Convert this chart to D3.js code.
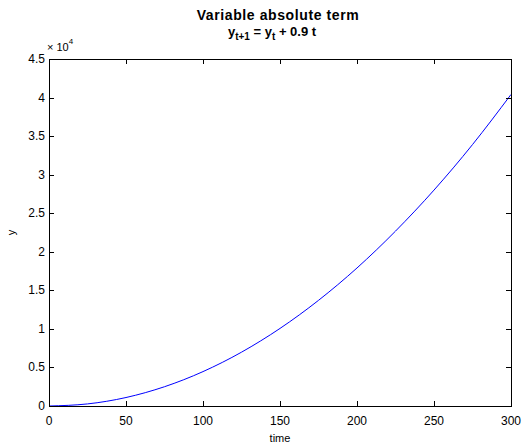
<!DOCTYPE html>
<html>
<head>
<meta charset="utf-8">
<script src="https://cdn.jsdelivr.net/npm/d3@7"></script>
<style>
  body { margin: 0; background: #fff; }
  text { font-family: "Liberation Sans", Arial, sans-serif; fill: #000; }
</style>
</head>
<body>
<div class="chart"></div>
<script>
// values (y in units of 1e4 shown on the axis)
var times = [0, 25, 50, 75, 100, 125, 150, 175, 200, 225, 250, 275, 300];
var yValues = [0, 270, 1100, 2500, 4460, 6980, 10060, 13700, 17900, 22680, 28000, 33900, 40400];
var xTicks = [0, 50, 100, 150, 200, 250, 300];
var yTicks = [0, 0.5, 1, 1.5, 2, 2.5, 3, 3.5, 4, 4.5];

var w = 524, h = 445;
var mLeft = 49, mRight = 511, mTop = 59, mBottom = 406;

var svg = d3.select(".chart").append("svg")
            .attr("width", w)
            .attr("height", h);

var x = d3.scaleLinear().domain([0, 300]).range([mLeft, mRight]);
var y = d3.scaleLinear().domain([0, 4.5]).range([mBottom, mTop]);

var line = d3.line()
             .x(function(d, i){ return x(times[i]); })
             .y(function(d){ return y(d / 1e4); })
             .curve(d3.curveMonotoneX);

svg.append("path")
   .datum(yValues)
   .attr("d", line)
   .attr("fill", "none")
   .attr("stroke", "#0000ff")
   .attr("stroke-width", 1);

// box + inward ticks
svg.append("rect")
   .attr("x", mLeft + 0.5).attr("y", mTop + 0.5)
   .attr("width", mRight - mLeft).attr("height", mBottom - mTop)
   .attr("fill", "none").attr("stroke", "#000");

var tk = 5;
var g = svg.append("g").attr("stroke", "#000").attr("shape-rendering", "crispEdges");
xTicks.forEach(function(t){
  var px = Math.round(x(t)) + 0.5;
  g.append("line").attr("x1", px).attr("x2", px).attr("y1", mBottom).attr("y2", mBottom - tk);
  g.append("line").attr("x1", px).attr("x2", px).attr("y1", mTop).attr("y2", mTop + tk);
});
yTicks.forEach(function(t){
  var py = Math.round(y(t)) + 0.5;
  g.append("line").attr("x1", mLeft).attr("x2", mLeft + tk).attr("y1", py).attr("y2", py);
  g.append("line").attr("x1", mRight).attr("x2", mRight - tk).attr("y1", py).attr("y2", py);
});

svg.append("g").selectAll("text").data(xTicks).enter().append("text")
   .attr("x", function(d){ return x(d); })
   .attr("y", mBottom + 19)
   .attr("text-anchor", "middle")
   .attr("font-size", 12)
   .text(function(d){ return d; });

svg.append("g").selectAll("text").data(yTicks).enter().append("text")
   .attr("x", mLeft - 4)
   .attr("y", function(d){ return y(d) + 4; })
   .attr("text-anchor", "end")
   .attr("font-size", 12)
   .text(function(d){ return d; });

var ex = svg.append("text").attr("x", mLeft - 2).attr("y", mTop - 8).attr("font-size", 11);
ex.append("tspan").text("\u00d7 10");
ex.append("tspan").attr("dy", -7).attr("font-size", 8).text("4");

svg.append("text").attr("x", x(150)).attr("y", mBottom + 36)
   .attr("text-anchor", "middle").attr("font-size", 11).text("time");

svg.append("text").attr("transform", "translate(15," + ((mTop + mBottom) / 2) + ") rotate(-90)")
   .attr("text-anchor", "middle").attr("font-size", 11).text("y");

svg.append("text").attr("x", 278).attr("y", 20)
   .attr("text-anchor", "middle").attr("font-size", 14).attr("font-weight", "bold")
   .attr("letter-spacing", 0.6)
   .text("Variable absolute term");

var t2 = svg.append("text").attr("x", 272).attr("y", 36)
   .attr("text-anchor", "middle").attr("font-size", 13).attr("font-weight", "bold");
t2.append("tspan").text("y");
t2.append("tspan").attr("dy", 4).attr("font-size", 10).text("t+1");
t2.append("tspan").attr("dy", -4).text(" = y");
t2.append("tspan").attr("dy", 4).attr("font-size", 10).text("t");
t2.append("tspan").attr("dy", -4).text(" + 0.9 t");
</script>
</body>
</html>
